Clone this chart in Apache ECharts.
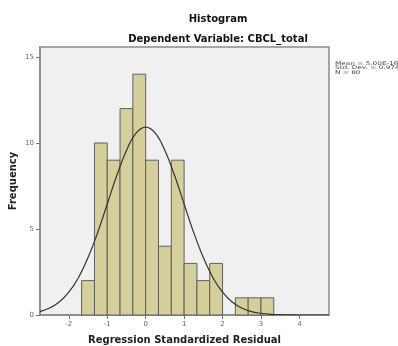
<!DOCTYPE html>
<html><head><meta charset="utf-8">
<script src="https://cdn.jsdelivr.net/npm/echarts@6/dist/echarts.min.js"></script>
<style>html,body{margin:0;padding:0;background:#fff}#c{width:398px;height:346px}</style>
</head><body><div id="c"></div>
<script>
// Histogram bins (edges) and frequencies
const binEdges = [-1.667,-1.333,-1,-0.667,-0.333,0,0.333,0.667,1,1.333,1.667,2,2.333,2.667,3,3.333];
const counts = [2,10,9,12,14,9,4,9,3,2,3,0,1,1,1];
// Normal curve points
const curveX = [-2.75,-2.5,-2.25,-2,-1.75,-1.5,-1.25,-1,-0.75,-0.5,-0.25,0,0.25,0.5,0.75,1,1.25,1.5,1.75,2,2.25,2.5,2.75,3,3.25,3.5,3.75,4,4.25,4.5,4.77];
const curveY = [0.20,0.41,0.76,1.33,2.17,3.34,4.79,6.45,8.12,9.57,10.57,10.92,10.57,9.57,8.12,6.45,4.79,3.34,2.17,1.33,0.76,0.41,0.20,0.10,0.04,0.02,0.01,0,0,0,0];
const xTicks = [-2,-1,0,1,2,3,4];
const yTicks = [0,5,10,15];
const titleText = 'Histogram';
const subtitleText = 'Dependent Variable: CBCL_total';
const xName = 'Regression Standardized Residual';
const yName = 'Frequency';
const statLines = ['Mean = 5.00E-16','Std. Dev. = 0.974','N = 80'];

const FONT = 'DejaVu Sans';
const chart = echarts.init(document.getElementById('c'), null, {renderer:'canvas'});
const barData = counts.map((c,i)=>[binEdges[i], binEdges[i+1], c]);
const lineData = curveX.map((x,i)=>[x, curveY[i]]);

chart.setOption({
  animation:false,
  backgroundColor:'#fff',
  grid:{left:40,right:69,top:47,bottom:31,outerBoundsMode:'none',containLabel:false,show:true,backgroundColor:'#f0f0f0',borderColor:'#8a8a8a',borderWidth:1.5},
  graphic:[
    {type:'text',x:218,y:19,style:{text:titleText,font:'bold 10px "DejaVu Sans"',fill:'#111',textAlign:'center',textVerticalAlign:'middle'}},
    {type:'text',x:218,y:39,style:{text:subtitleText,font:'bold 10px "DejaVu Sans"',fill:'#111',textAlign:'center',textVerticalAlign:'middle'}},
    {type:'text',x:335,y:61,scaleY:0.7,style:{text:statLines.join('\n'),font:'7.3px "DejaVu Sans"',lineHeight:6.7,fill:'#444',textAlign:'left',textVerticalAlign:'top'}}
  ],
  xAxis:{type:'value',min:-2.75,max:4.77,
    name:xName,nameLocation:'middle',nameGap:20,nameMoveOverlap:false,
    nameTextStyle:{fontFamily:FONT,fontWeight:'bold',fontSize:10,color:'#222'},
    axisLine:{show:true,onZero:false,lineStyle:{color:'#8a8a8a',width:1.5}},
    axisTick:{show:true,customValues:xTicks,length:4,lineStyle:{color:'#777'}},
    axisLabel:{customValues:xTicks,fontFamily:FONT,fontSize:7,color:'#666',margin:6},
    splitLine:{show:false}},
  yAxis:{type:'value',min:0,max:15.58,
    name:yName,nameLocation:'middle',nameGap:22,nameMoveOverlap:false,
    nameTextStyle:{fontFamily:FONT,fontWeight:'bold',fontSize:10,color:'#222'},
    axisLine:{show:true,onZero:false,lineStyle:{color:'#8a8a8a',width:1.5}},
    axisTick:{show:true,customValues:yTicks,length:4,lineStyle:{color:'#777'}},
    axisLabel:{customValues:yTicks,fontFamily:FONT,fontSize:7,color:'#666',margin:6},
    splitLine:{show:false}},
  series:[
    {type:'custom',data:barData,encode:{x:[0,1],y:2},z:2,
      renderItem:function(params,api){
        const x0=api.value(0),x1=api.value(1),h=api.value(2);
        if(!h) return null;
        const p0=api.coord([x0,h]),p1=api.coord([x1,0]);
        return {type:'rect',shape:{x:p0[0],y:p0[1],width:p1[0]-p0[0],height:p1[1]-p0[1]},
          style:{fill:'#d5d09b',stroke:'#5f5f5f',lineWidth:1}};
      }},
    {type:'line',data:lineData,smooth:0.4,showSymbol:false,z:3,clip:true,
      lineStyle:{color:'#333',width:1.2}}
  ]
});
</script></body></html>
